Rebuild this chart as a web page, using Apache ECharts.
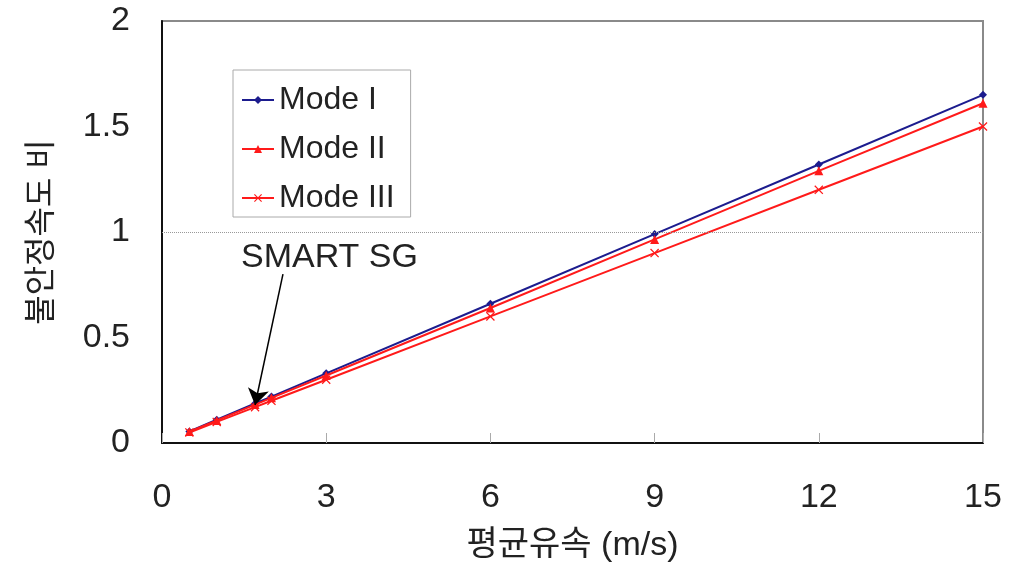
<!DOCTYPE html>
<html>
<head>
<meta charset="utf-8">
<script src="https://cdn.jsdelivr.net/npm/echarts@6/dist/echarts.min.js"></script>
<style>
  html, body { margin: 0; padding: 0; background: #fff; }
  #main { width: 1013px; height: 570px; }
</style>
</head>
<body>
<div id="main"></div>
<script>
// mean flow velocity (m/s)
var velocity = [0.5, 1, 1.7, 2, 3, 6, 9, 12, 15];
// instability velocity ratio
var modeOne = [0.055, 0.11, 0.187, 0.22, 0.33, 0.66, 0.99, 1.32, 1.65];
var modeTwo = [0.054, 0.107, 0.182, 0.214, 0.32, 0.64, 0.965, 1.29, 1.61];
var modeThree = [0.05, 0.1, 0.17, 0.2, 0.3, 0.6, 0.9, 1.2, 1.5];
var seriesNames = ["Mode I", "Mode II", "Mode III"];
var xTicks = [0, 3, 6, 9, 12, 15];
var yTicks = [0, 0.5, 1, 1.5, 2];

function pairs(ys) {
  return velocity.map(function (v, i) { return [v, ys[i]]; });
}

var latin = "'Liberation Sans', Arial, 'Noto Sans CJK KR', sans-serif";
var hangul = "'Liberation Sans', 'Noto Sans CJK KR', sans-serif";
var xMark = "path://M1,0L5,4L9,0L10,1L6,5L10,9L9,10L5,6L1,10L0,9L4,5L0,1Z";

var myChart = echarts.init(document.getElementById("main"));
var option = {
  animation: false,
  grid: {
    left: 162,
    right: 30,
    top: 21,
    bottom: 127,
    show: true,
    borderColor: "#8a8a8a",
    borderWidth: 2
  },
  legend: {
    orient: "vertical",
    left: 233,
    top: 70,
    padding: [14, 16, 3, 8],
    itemGap: 17,
    itemWidth: 32,
    itemHeight: 10,
    borderColor: "#aaaaaa",
    borderWidth: 1,
    backgroundColor: "#fff",
    textStyle: { fontFamily: latin, fontSize: 32, color: "#222" },
    data: seriesNames
  },
  xAxis: {
    type: "value",
    min: 0,
    max: 15,
    interval: 3,
    name: "평균유속 (m/s)",
    nameLocation: "middle",
    nameGap: 86,
    nameTextStyle: { fontFamily: hangul, fontSize: 34, color: "#222" },
    axisLine: { onZero: false, lineStyle: { color: "#111", width: 2 } },
    axisTick: { inside: true, length: 10, lineStyle: { color: "#aaa" } },
    axisLabel: {
      margin: 38,
      fontFamily: latin,
      fontSize: 34,
      color: "#222",
      formatter: function (v) { return xTicks.indexOf(v) >= 0 ? String(v) : ""; }
    },
    splitLine: { show: false }
  },
  yAxis: {
    type: "value",
    min: 0,
    max: 2,
    interval: 0.5,
    name: "불안정속도 비",
    nameLocation: "middle",
    nameGap: 104,
    nameTextStyle: { fontFamily: hangul, fontSize: 32, color: "#222" },
    axisLine: { show: true, lineStyle: { color: "#111", width: 2 } },
    axisTick: { show: false },
    axisLabel: {
      margin: 32,
      fontFamily: latin,
      fontSize: 34,
      color: "#222",
      formatter: function (v) { return yTicks.indexOf(v) >= 0 ? String(v) : ""; }
    },
    splitLine: { show: false }
  },
  series: [
    {
      name: seriesNames[0],
      type: "line",
      data: pairs(modeOne),
      color: "#1c1c8e",
      lineStyle: { width: 2 },
      symbol: "diamond",
      symbolSize: 8,
      z: 2,
      markLine: {
        silent: true,
        symbol: "none",
        label: { show: false },
        lineStyle: { color: "#999", type: "dotted", width: 1 },
        data: [{ yAxis: 1 }]
      }
    },
    {
      name: seriesNames[1],
      type: "line",
      data: pairs(modeTwo),
      color: "#ff1a1a",
      lineStyle: { width: 2 },
      symbol: "triangle",
      symbolSize: 9,
      z: 3,
      markLine: {
        silent: true,
        symbol: ["none", "arrow"],
        symbolSize: 16,
        label: { show: false },
        lineStyle: { color: "#000", type: "solid", width: 1.5 },
        data: [[{ coord: [2.21, 0.8] }, { coord: [1.7, 0.18] }]]
      },
      markPoint: {
        silent: true,
        symbol: "rect",
        symbolSize: 0,
        label: {
          show: true,
          position: "inside",
          formatter: "SMART SG",
          fontFamily: latin,
          fontSize: 34,
          color: "#222"
        },
        data: [{ coord: [3.06, 0.88] }]
      }
    },
    {
      name: seriesNames[2],
      type: "line",
      data: pairs(modeThree),
      color: "#ff1a1a",
      lineStyle: { width: 2 },
      symbol: xMark,
      symbolSize: 9,
      z: 4
    }
  ]
};
myChart.setOption(option);
</script>
</body>
</html>
